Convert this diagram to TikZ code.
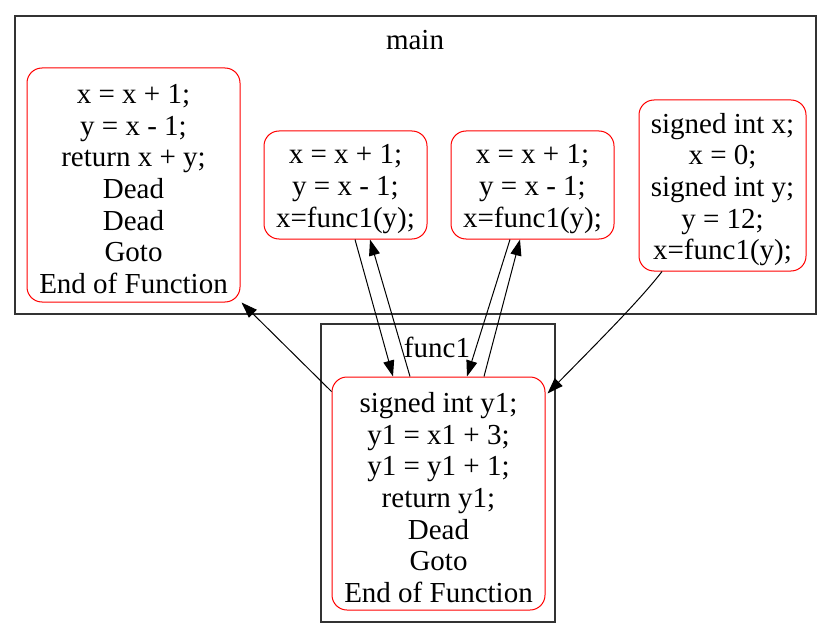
\documentclass[tikz,border=0pt]{standalone}
\usepackage{fontspec}
\setmainfont{Liberation Serif}
\usetikzlibrary{arrows.meta,calc}
\begin{document}
\begin{tikzpicture}[x=1pt,y=-1pt,
  every node/.style={font=\fontsize{29}{31.7}\selectfont},
  blk/.style={draw=red,line width=1pt,rounded corners=15pt,inner sep=0pt},
  txt/.style={align=center,inner sep=0pt,yshift=-4pt},
  clus/.style={draw=black!80,line width=1.2pt},
  edge/.style={line width=1pt,-{Triangle[length=16pt,width=11pt]}}]
\useasboundingbox (0,0) rectangle (832,639);
\draw[clus] (15,16) rectangle (816,314);
\draw[clus] (321,324) rectangle (555,622);
\node (lmain) at (415,40) {main};
\node (lfunc) at (437,347) {func1};
\node[blk,minimum width=213pt,minimum height=234pt] (A) at (133.5,185) {};
\node[txt] (At) at (A.center) {x = x + 1;\\y = x - 1;\\return x + y;\\Dead\\Dead\\Goto\\End of Function};
\node[blk,minimum width=163pt,minimum height=108pt] (B) at (345.5,185) {};
\node[txt] (Bt) at (B.center) {x = x + 1;\\y = x - 1;\\x=func1(y);};
\node[blk,minimum width=163pt,minimum height=108pt] (C) at (532.5,185) {};
\node[txt] (Ct) at (C.center) {x = x + 1;\\y = x - 1;\\x=func1(y);};
\node[blk,minimum width=167pt,minimum height=171pt] (D) at (722.5,185.5) {};
\node[txt] (Dt) at (D.center) {signed int x;\\x = 0;\\signed int y;\\y = 12;\\x=func1(y);};
\node[blk,minimum width=213pt,minimum height=233pt] (F) at (438.5,493.5) {};
\node[txt] (Ft) at (F.center) {signed int y1;\\y1 = x1 + 3;\\y1 = y1 + 1;\\return y1;\\Dead\\Goto\\End of Function};
\draw[edge] ([xshift=9.5pt]B.south) -- ([xshift=-45.5pt]F.north);
\draw[edge] ([xshift=-28.5pt]F.north) -- ([xshift=24.5pt]B.south);
\draw[edge] ([xshift=-22.5pt]C.south) -- ([xshift=28.5pt]F.north);
\draw[edge] ([xshift=45.5pt]F.north) -- ([xshift=-12.5pt]C.south);
\draw[edge] ([yshift=-15pt]F.north west) -- ([xshift=1pt,yshift=0pt]A.south east);
\draw[edge] ([xshift=-60.5pt]D.south) .. controls (640,300) and (600,340) .. ([xshift=2pt,yshift=-17pt]F.north east);
\end{tikzpicture}
\end{document}
